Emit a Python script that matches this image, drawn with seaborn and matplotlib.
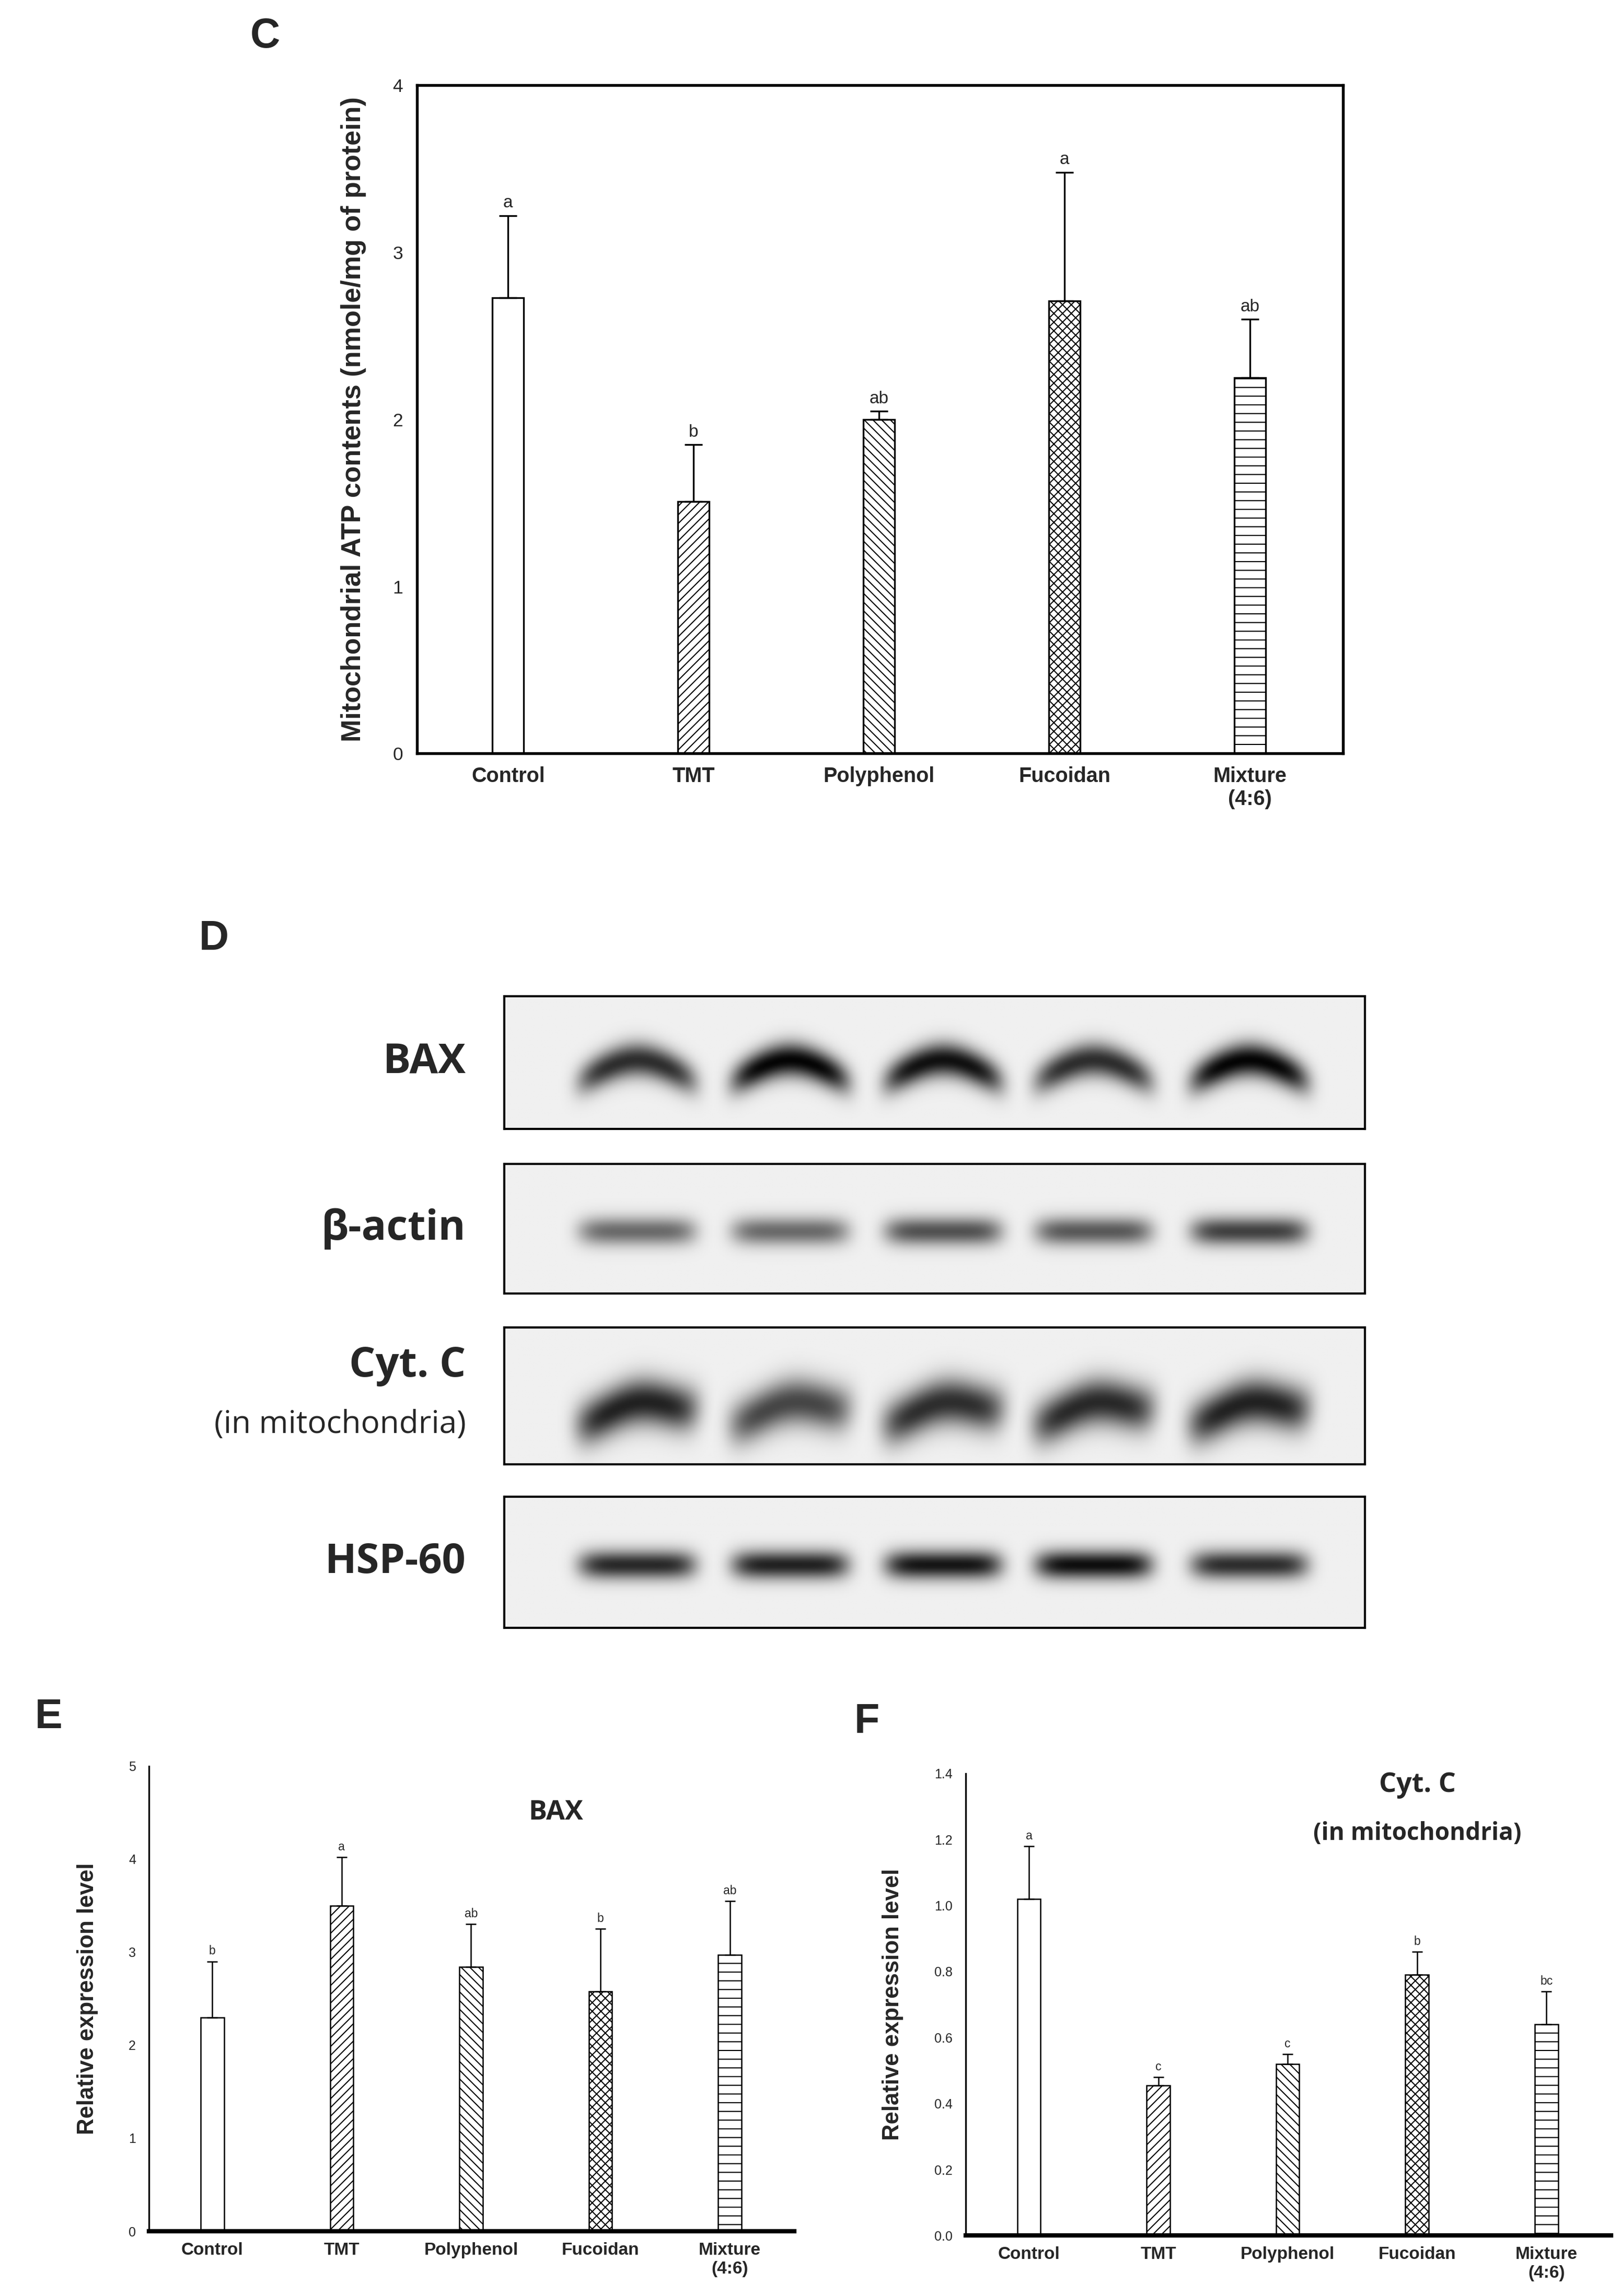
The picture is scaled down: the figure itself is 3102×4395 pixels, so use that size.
import numpy as np
import pandas as pd
import seaborn as sns
import matplotlib.pyplot as plt

groups = ["Control", "TMT", "Polyphenol", "Fucoidan", "Mixture\n(4:6)"]
hatches = ["", "//////", "\\\\\\\\\\\\", "xxxxxx", "---"]

# panel C: mitochondrial ATP
atp_mean = [2.73, 1.51, 2.00, 2.71, 2.25]
atp_err = [0.49, 0.34, 0.05, 0.77, 0.35]
atp_letters = ["a", "b", "ab", "a", "ab"]

# panel E: BAX relative expression
bax_mean = [2.30, 3.50, 2.84, 2.58, 2.97]
bax_err = [0.60, 0.52, 0.46, 0.67, 0.58]
bax_letters = ["b", "a", "ab", "b", "ab"]

# panel F: Cyt. C relative expression
cytc_mean = [1.02, 0.455, 0.52, 0.79, 0.64]
cytc_err = [0.16, 0.025, 0.03, 0.07, 0.10]
cytc_letters = ["a", "c", "c", "b", "bc"]

# panel D: blot band intensities per lane
blot_rows = ["BAX", "β-actin", "Cyt. C", "HSP-60"]
blot_intensity = {
    "BAX": [0.80, 0.97, 0.92, 0.80, 0.97],
    "β-actin": [0.55, 0.55, 0.65, 0.62, 0.72],
    "Cyt. C": [0.85, 0.70, 0.80, 0.82, 0.85],
    "HSP-60": [0.82, 0.85, 0.90, 0.93, 0.80],
}

sns.set_style("white")
plt.rcParams["font.family"] = ["Liberation Sans", "DejaVu Sans"]
plt.rcParams["hatch.linewidth"] = 0.5

W, H = 1100, 1560
fig = plt.figure(figsize=(10.343, 14.65), dpi=300)


def ax_at(x0, y0, x1, y1):
    return fig.add_axes([x0 / W, 1 - y1 / H, (x1 - x0) / W, (y1 - y0) / H])


def bar_panel(ax, means, errs, letters, width, lw, fs_letter, cap):
    df = pd.DataFrame({"group": groups, "value": means})
    sns.barplot(data=df, x="group", y="value", ax=ax, color="white",
                edgecolor="black", linewidth=lw, width=width)
    for p, h in zip(ax.patches, hatches):
        p.set_hatch(h)
    ax.errorbar(range(len(groups)), means, yerr=[np.zeros(len(errs)), errs],
                fmt="none", ecolor="black", elinewidth=lw, capsize=cap, capthick=lw)
    for i, (m, e, t) in enumerate(zip(means, errs, letters)):
        ax.annotate(t, (i, m + e), xytext=(0, 2), textcoords="offset points",
                    ha="center", va="bottom", fontsize=fs_letter)
    ax.set_xlim(-0.49, 4.5)
    ax.set_xlabel("")


# ---- C ----
axc = ax_at(283, 58, 911, 512)
bar_panel(axc, atp_mean, atp_err, atp_letters, 0.17, 0.8, 8, 4)
axc.set_ylim(0, 4)
axc.set_yticks([0, 1, 2, 3, 4])
axc.tick_params(axis="y", direction="out", length=3, labelsize=8.5, width=0.8)
axc.tick_params(axis="x", length=0, labelsize=9.5, pad=6)
for lab in axc.get_xticklabels():
    lab.set_fontweight("bold")
for s in axc.spines.values():
    s.set_linewidth(1.3)
    s.set_color("black")
axc.set_ylabel("Mitochondrial ATP contents (nmole/mg of protein)",
               fontsize=12.5, fontweight="bold", labelpad=12)
fig.text(180 / W, 1 - 25 / H, "C", fontsize=19, fontweight="bold", ha="center", va="center")

# ---- D ----
fig.text(145 / W, 1 - 638 / H, "D", fontsize=19, fontweight="bold", ha="center", va="center")
boxes = [(677, 767), (791, 879), (902, 995), (1017, 1106)]
lanes = [0.154, 0.332, 0.51, 0.685, 0.866]
xs = np.linspace(0, 1, 600)
ys = np.linspace(0, 1, 160)
X, Y = np.meshgrid(xs, ys)
for name, (y0, y1) in zip(blot_rows, boxes):
    ax = ax_at(342, y0, 926, y1)
    img = np.zeros_like(X)
    for lx, a in zip(lanes, blot_intensity[name]):
        if name == "Cyt. C":
            yc = 0.40 + 0.05 * np.cos((X - lx) / 0.07 * np.pi) + 0.06 * (X - lx) / 0.07
            band = np.exp(-((X - lx) / 0.07) ** 6) * np.exp(-((Y - yc) / 0.17) ** 2)
        elif name == "BAX":
            yc = 0.42 + 0.10 * np.cos((X - lx) / 0.07 * np.pi / 1.4)
            band = np.exp(-((X - lx) / 0.068) ** 6) * np.exp(-((Y - yc) / 0.13) ** 2)
        else:
            band = np.exp(-((X - lx) / 0.068) ** 6) * np.exp(-((Y - 0.48) / 0.11) ** 2)
        img = np.maximum(img, a * band)
    ax.imshow(1 - img * 0.95 - 0.06, cmap="gray", vmin=0, vmax=1, extent=(0, 1, 0, 1),
              aspect="auto", origin="lower")
    ax.set_xticks([])
    ax.set_yticks([])
    for s in ax.spines.values():
        s.set_linewidth(1.0)
        s.set_color("black")
    yc = 1 - ((y0 + y1) / 2) / H
    if name == "Cyt. C":
        fig.text(316 / W, 1 - 928 / H, name, fontsize=19, fontweight="bold",
                 family="Open Sans", ha="right", va="center")
        fig.text(316 / W, 1 - 968 / H, "(in mitochondria)", fontsize=14.5,
                 family="Open Sans", ha="right", va="center")
    else:
        fig.text(316 / W, yc, name, fontsize=19, fontweight="bold",
                 family="Open Sans", ha="right", va="center")


def small_panel(ax, means, errs, letters, ymax, yticks, fmt):
    bar_panel(ax, means, errs, letters, 0.18, 0.6, 5.5, 2.5)
    ax.set_ylim(0, ymax)
    ax.set_yticks(yticks)
    ax.set_yticklabels([fmt.format(v) for v in yticks])
    ax.tick_params(axis="y", direction="out", length=2.5, labelsize=6, width=0.6)
    ax.tick_params(axis="x", length=0, labelsize=8, pad=5)
    for lab in ax.get_xticklabels():
        lab.set_fontweight("bold")
    sns.despine(ax=ax)
    ax.spines["left"].set_linewidth(0.8)
    ax.spines["bottom"].set_linewidth(2.0)
    ax.spines["left"].set_color("black")
    ax.spines["bottom"].set_color("black")
    ax.set_ylabel("Relative expression level", fontsize=10.5, fontweight="bold", labelpad=14)


# ---- E ----
axe = ax_at(101, 1200, 539, 1516)
small_panel(axe, bax_mean, bax_err, bax_letters, 5, [0, 1, 2, 3, 4, 5], "{:.0f}")
axe.text(0.63, 0.9, "BAX", transform=axe.transAxes, fontsize=12.5, fontweight="bold",
         family="Open Sans", ha="center", va="center")
fig.text(33 / W, 1 - 1167 / H, "E", fontsize=19, fontweight="bold", ha="center", va="center")

# ---- F ----
axf = ax_at(655, 1205, 1093, 1519)
small_panel(axf, cytc_mean, cytc_err, cytc_letters, 1.4,
            [0.0, 0.2, 0.4, 0.6, 0.8, 1.0, 1.2, 1.4], "{:.1f}")
axf.text(0.70, 0.975, "Cyt. C", transform=axf.transAxes, fontsize=12.5, fontweight="bold",
         family="Open Sans", ha="center", va="center")
axf.text(0.70, 0.87, "(in mitochondria)", transform=axf.transAxes, fontsize=11,
         fontweight="bold", family="Open Sans", ha="center", va="center")
fig.text(588 / W, 1 - 1170 / H, "F", fontsize=19, fontweight="bold", ha="center", va="center")

fig.savefig("out.png", dpi=300, facecolor="white")
